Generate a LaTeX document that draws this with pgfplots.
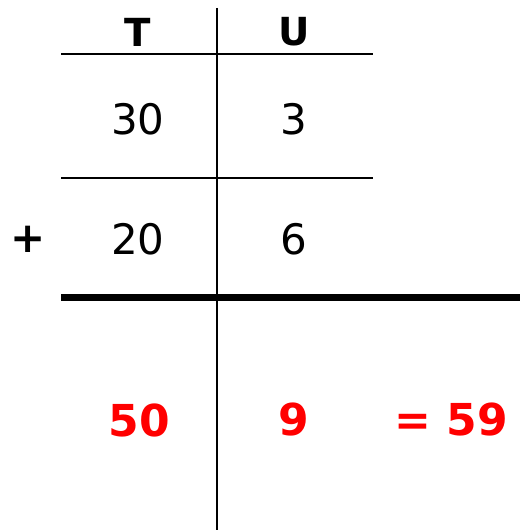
\documentclass[border=0pt]{standalone}
\usepackage{fontspec}
\setmainfont{DejaVu Sans}
\usepackage{pgfplots}
\pgfplotsset{compat=1.18}
\definecolor{rojo}{RGB}{255,0,0}
\begin{document}
\begin{tikzpicture}
\begin{axis}[
  scale only axis, width=390pt, height=397.5pt,
  xmin=0, xmax=520, ymin=0, ymax=530, y dir=reverse,
  axis lines=none, clip=false]
  % grid lines (pixel coordinates)
  \addplot[black, line width=1.5pt] coordinates {(217,8) (217,530)};
  \addplot[black, line width=1.5pt] coordinates {(61,54.5) (373,54.5)};
  \addplot[black, line width=1.5pt] coordinates {(61,178) (373,178)};
  \addplot[black, line width=4.6pt] coordinates {(61,297.5) (520,297.5)};
  % headings
  \node[font=\fontsize{29}{29}\selectfont\bfseries] at (axis cs:138,32) {T};
  \node[font=\fontsize{29}{29}\selectfont\bfseries] at (axis cs:294,32) {U};
  % addends
  \node[font=\fontsize{31.5}{31.5}\selectfont] at (axis cs:138,119) {30};
  \node[font=\fontsize{31.5}{31.5}\selectfont] at (axis cs:294,119) {3};
  \node[font=\fontsize{31.5}{31.5}\selectfont] at (axis cs:138,239) {20};
  \node[font=\fontsize{31.5}{31.5}\selectfont] at (axis cs:294,239) {6};
  \node[font=\fontsize{31.5}{31.5}\selectfont\bfseries] at (axis cs:28,239) {+};
  % result
  \node[rojo, font=\fontsize{33}{33}\selectfont\bfseries] at (axis cs:139,420) {50};
  \node[rojo, font=\fontsize{33}{33}\selectfont\bfseries] at (axis cs:294,420) {9};
  \node[rojo, font=\fontsize{33}{33}\selectfont\bfseries] at (axis cs:451,420) {= 59};
\end{axis}
\pgfresetboundingbox
\path[use as bounding box] (current axis.south west) rectangle (current axis.north east);
\end{tikzpicture}
\end{document}
